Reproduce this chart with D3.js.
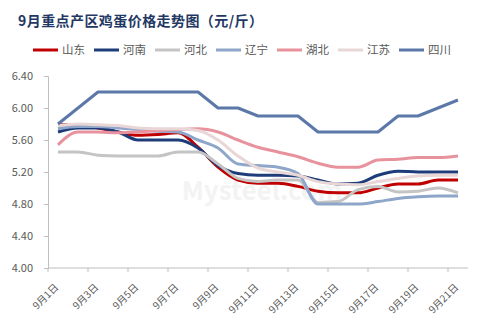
<!DOCTYPE html>
<html><head><meta charset="utf-8">
<script src="https://cdn.jsdelivr.net/npm/d3@7"></script>
<style>body{margin:0;background:#fff}svg{display:block}text{font-family:"Noto Sans CJK SC","Noto Sans",sans-serif}</style>
</head><body>
<script>
const dates = ["9月1日","9月2日","9月3日","9月4日","9月5日","9月6日","9月7日","9月8日","9月9日","9月10日","9月11日","9月12日","9月13日","9月14日","9月15日","9月16日","9月17日","9月18日","9月19日","9月20日","9月21日"];
const seriesNames = ["山东","河南","河北","辽宁","湖北","江苏","四川"];
const shandong = [5.79,5.79,5.75,5.70,5.66,5.67,5.69,5.51,5.26,5.10,5.06,5.06,5.02,4.96,4.94,4.94,5.00,5.05,5.05,5.10,5.10];
const henan    = [5.70,5.75,5.75,5.70,5.60,5.60,5.60,5.50,5.28,5.18,5.16,5.16,5.15,5.10,5.05,5.06,5.16,5.21,5.20,5.20,5.20];
const hebei    = [5.45,5.45,5.41,5.40,5.40,5.40,5.45,5.45,5.30,5.12,5.08,5.10,5.10,4.82,4.83,4.98,5.02,4.95,4.96,5.00,4.94];
const liaoning = [5.74,5.77,5.77,5.75,5.73,5.71,5.70,5.60,5.50,5.30,5.28,5.26,5.18,4.80,4.80,4.80,4.83,4.87,4.89,4.90,4.90];
const hubei    = [5.54,5.70,5.70,5.69,5.70,5.72,5.73,5.74,5.70,5.60,5.51,5.45,5.39,5.31,5.26,5.26,5.35,5.36,5.38,5.38,5.40];
const jiangsu  = [5.78,5.80,5.79,5.78,5.75,5.74,5.74,5.72,5.60,5.40,5.25,5.20,5.16,5.08,5.05,5.04,5.08,5.12,5.15,5.16,5.16];
const sichuan  = [5.80,6.00,6.20,6.20,6.20,6.20,6.20,6.20,6.00,6.00,5.90,5.90,5.90,5.70,5.70,5.70,5.70,5.90,5.90,6.00,6.10];
const yTicks = [4.00,4.40,4.80,5.20,5.60,6.00,6.40];
const colors = ["#C00000","#1F3C7A","#C4C4C4","#8EA6CA","#E8929D","#E9D6D6","#5B78A8"];
const allValues = [shandong,henan,hebei,liaoning,hubei,jiangsu,sichuan];

const W=480,H=324;
const svg=d3.select("body").append("svg").attr("width",W).attr("height",H);
const pL=48,pR=468,pT=76,pB=268;

svg.append("text").attr("x",18).attr("y",26).attr("fill","#1F3864")
  .attr("font-size",14).attr("font-weight","bold").attr("textLength",245)
  .text("9月重点产区鸡蛋价格走势图（元/斤）");

// watermark
svg.append("text").attr("x",262).attr("y",200).attr("text-anchor","middle")
  .attr("font-size",26).attr("font-weight","bold").attr("fill","#f3f3f3")
  .attr("font-family","Arial, Liberation Sans").text("Mysteel.com");

const x=d3.scaleBand().domain(dates).range([pL,pR]);
const y=d3.scaleLinear().domain([4,6.4]).range([pB,pT]);

// y axis
const ya=svg.append("g").attr("transform",`translate(${pL},0)`)
  .call(d3.axisLeft(y).tickValues(yTicks).tickFormat(d3.format(".2f")).tickSizeOuter(0).tickSize(4).tickPadding(11));
ya.selectAll("path,line").attr("stroke","#BFBFBF");
ya.selectAll("text").attr("fill","#595959").attr("font-size",11).attr("font-family","Liberation Sans, Arial");

// x axis
const xa=svg.append("g").attr("transform",`translate(0,${pB})`);
xa.append("line").attr("x1",pL).attr("x2",pR).attr("stroke","#BFBFBF");
const tickIdx=d3.range(0,dates.length,2);
xa.selectAll("line.t").data(tickIdx).enter().append("line").attr("class","t")
  .attr("x1",i=>x(dates[i])).attr("x2",i=>x(dates[i])).attr("y1",0).attr("y2",4).attr("stroke","#BFBFBF");
xa.selectAll("text.l").data(tickIdx).enter().append("text").attr("class","l")
  .attr("transform",i=>`translate(${x(dates[i])+x.bandwidth()/2+1},${20}) rotate(-45)`)
  .attr("text-anchor","end").attr("font-size",10).attr("fill","#595959")
  .text(i=>dates[i]);

// lines
const line=d3.line().x((d,i)=>x(dates[i])+x.bandwidth()/2).y(d=>y(d)).curve(d3.curveMonotoneX);
const lineStraight=d3.line().x((d,i)=>x(dates[i])+x.bandwidth()/2).y(d=>y(d));
allValues.forEach((vals,k)=>{
  svg.append("path").attr("d",(k===6?lineStraight:line)(vals)).attr("fill","none")
    .attr("stroke",colors[k]).attr("stroke-width",3).attr("stroke-linejoin","round");
});

// legend
const lg=svg.append("g");
seriesNames.forEach((n,k)=>{
  const x0=33+k*61;
  lg.append("line").attr("x1",x0).attr("x2",x0+25).attr("y1",50).attr("y2",50)
    .attr("stroke",colors[k]).attr("stroke-width",3);
  lg.append("text").attr("x",x0+29).attr("y",54).attr("font-size",11.5).attr("fill","#595959").text(n);
});
</script>
</body></html>
